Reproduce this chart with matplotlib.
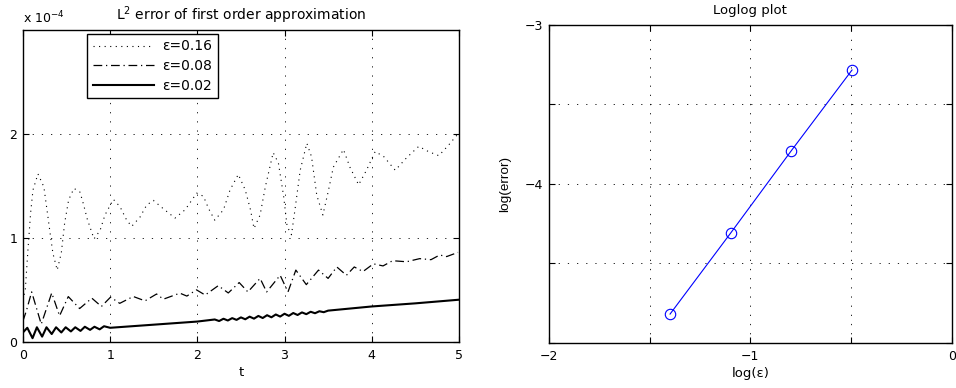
import matplotlib
matplotlib.use("Agg")
import matplotlib.pyplot as plt
import numpy as np

plt.rcParams['font.family'] = ['DejaVu Sans']
plt.rcParams['mathtext.fontset'] = 'dejavusans'
plt.rcParams['font.size'] = 9

# ---- data (errors in units of 1e-4) ----
t_016 = [0.00, 0.027, 0.057, 0.088, 0.115, 0.172, 0.24, 0.287, 0.317, 0.344, 0.393,
         0.44, 0.478, 0.524, 0.585, 0.654, 0.692, 0.738, 0.815, 0.884, 0.941, 1.037,
         1.113, 1.19, 1.247, 1.343, 1.419, 1.496, 1.61, 1.744, 1.86, 1.993, 2.07,
         2.13, 2.20, 2.30, 2.375, 2.47, 2.55, 2.61, 2.65, 2.72, 2.78, 2.87, 2.93,
         2.99, 3.03, 3.08, 3.12, 3.18, 3.256, 3.31, 3.37, 3.44, 3.50, 3.56, 3.676,
         3.75, 3.85, 3.94, 4.04, 4.14, 4.27, 4.40, 4.54, 4.65, 4.77, 4.88, 4.98]
err_016 = [0.40, 0.50, 0.88, 1.24, 1.46, 1.615, 1.49, 1.20, 1.01, 0.85, 0.69,
           0.855, 1.14, 1.365, 1.476, 1.44, 1.33, 1.18, 0.99, 1.07, 1.22, 1.37,
           1.30, 1.17, 1.11, 1.20, 1.315, 1.36, 1.28, 1.19, 1.27, 1.43, 1.40,
           1.28, 1.17, 1.27, 1.46, 1.61, 1.46, 1.27, 1.09, 1.22, 1.49, 1.82, 1.72,
           1.40, 1.11, 1.03, 1.27, 1.65, 1.91, 1.78, 1.41, 1.22, 1.44, 1.68, 1.85,
           1.68, 1.51, 1.65, 1.83, 1.78, 1.65, 1.77, 1.88, 1.83, 1.79, 1.89, 1.99]

t_008 = [0.0, 0.04, 0.10, 0.21, 0.33, 0.42, 0.52, 0.65, 0.79, 0.90, 1.005, 1.11,
         1.265, 1.40, 1.533, 1.61, 1.80, 1.88, 1.99, 2.09, 2.24, 2.355, 2.48, 2.58,
         2.72, 2.795, 2.95, 3.04, 3.13, 3.25, 3.39, 3.50, 3.60, 3.71, 3.80, 3.90,
         4.02, 4.13, 4.24, 4.40, 4.55, 4.68, 4.78, 4.86, 4.99]
err_008 = [0.20, 0.30, 0.48, 0.17, 0.47, 0.25, 0.435, 0.32, 0.42, 0.34, 0.43, 0.37,
           0.436, 0.394, 0.46, 0.41, 0.468, 0.44, 0.50, 0.45, 0.54, 0.47, 0.57, 0.48,
           0.61, 0.48, 0.64, 0.48, 0.69, 0.55, 0.69, 0.61, 0.72, 0.64, 0.72, 0.676,
           0.75, 0.73, 0.78, 0.77, 0.80, 0.79, 0.835, 0.82, 0.86]

t_002 = [0.00, 0.05, 0.11, 0.16, 0.22, 0.27, 0.33, 0.38, 0.44, 0.49, 0.55, 0.60,
         0.66, 0.71, 0.77, 0.82, 0.88, 0.93, 1.00, 1.50, 2.00, 2.20, 2.25, 2.30,
         2.35, 2.40, 2.45, 2.50, 2.55, 2.60, 2.65, 2.70, 2.75, 2.80, 2.85, 2.90,
         2.95, 3.00, 3.05, 3.10, 3.15, 3.20, 3.25, 3.30, 3.35, 3.40, 3.45, 3.50,
         4.00, 4.50, 5.00]
err_002 = [0.09, 0.135, 0.035, 0.14, 0.05, 0.14, 0.075, 0.14, 0.09, 0.14, 0.10, 0.14,
           0.105, 0.145, 0.115, 0.145, 0.12, 0.15, 0.135, 0.165, 0.195, 0.215, 0.200, 0.222,
           0.205, 0.228, 0.211, 0.235, 0.217, 0.242, 0.223, 0.249, 0.229, 0.256, 0.236, 0.263,
           0.243, 0.270, 0.250, 0.277, 0.258, 0.283, 0.266, 0.289, 0.275, 0.294, 0.285, 0.300,
           0.34, 0.37, 0.405]

log_eps = [-0.495, -0.796, -1.097, -1.398]
log_err = [-3.283, -3.79, -4.308, -4.818]

fig = plt.figure(figsize=(9.56, 3.88), dpi=100)

def matlab_axes(ax):
    ax.tick_params(direction='in', length=4, width=0.8, top=True, right=True,
                   labelsize=9)
    ax.tick_params(axis='x', pad=5)
    ax.tick_params(axis='y', pad=4)
    for s in ax.spines.values():
        s.set_linewidth(1.0)
    ax.grid(True, linestyle=(0, (1.5, 9.5)), color='black', linewidth=0.6)
    ax.set_axisbelow(True)

# ---- left panel ----
ax1 = fig.add_axes([0.024, 0.119, 0.456, 0.804])
ax1.plot(t_016, err_016, color='black', linestyle=(0, (1, 4)), linewidth=0.8,
         label='ε=0.16')
ax1.plot(t_008, err_008, color='black', linestyle=(0, (7, 3, 1, 3)), linewidth=0.9,
         label='ε=0.08')
ax1.plot(t_002, err_002, color='black', linestyle='-', linewidth=1.5,
         label='ε=0.02')
ax1.set_xlim(0, 5)
ax1.set_ylim(0, 3)
ax1.set_xticks([0, 1, 2, 3, 4, 5])
ax1.set_yticks([0, 1, 2])
matlab_axes(ax1)
ax1.set_xlabel('t', fontsize=9.5, labelpad=3)
ax1.set_title(r'L$^2$ error of first order approximation', fontsize=10, pad=7)
ax1.text(0.0, 1.022, r'x 10$^{-4}$', transform=ax1.transAxes, fontsize=9,
         ha='left', va='baseline')
leg = ax1.legend(loc='upper left', bbox_to_anchor=(0.147, 0.987), fontsize=10,
                 frameon=True, fancybox=False, framealpha=1, edgecolor='black',
                 handlelength=4.4, handletextpad=0.6, borderpad=0.4,
                 labelspacing=0.4, borderaxespad=0)
leg.get_frame().set_linewidth(1.0)

# ---- right panel ----
ax2 = fig.add_axes([0.574, 0.116, 0.4216, 0.8196])
ax2.plot(log_eps, log_err, color='#0000ff', linewidth=0.8, marker='o',
         markersize=7.5, markerfacecolor='none', markeredgecolor='#0000ff',
         markeredgewidth=0.8)
ax2.set_xlim(-2, 0)
ax2.set_ylim(-5, -3)
ax2.set_xticks([-2, -1.5, -1, -0.5, 0])
ax2.set_xticklabels(['\u22122', '', '\u22121', '', '0'])
ax2.set_yticks([-5, -4.5, -4, -3.5, -3])
ax2.set_yticklabels(['', '', '\u22124', '', '\u22123'])
matlab_axes(ax2)
ax2.set_xlabel('log(ε)', fontsize=9.5, labelpad=3)
ax2.set_ylabel('log(error)', fontsize=9.7, family='Liberation Sans', labelpad=10)
ax2.set_title('Loglog plot', fontsize=9.5, pad=8)

fig.savefig('out.png', dpi=100)
